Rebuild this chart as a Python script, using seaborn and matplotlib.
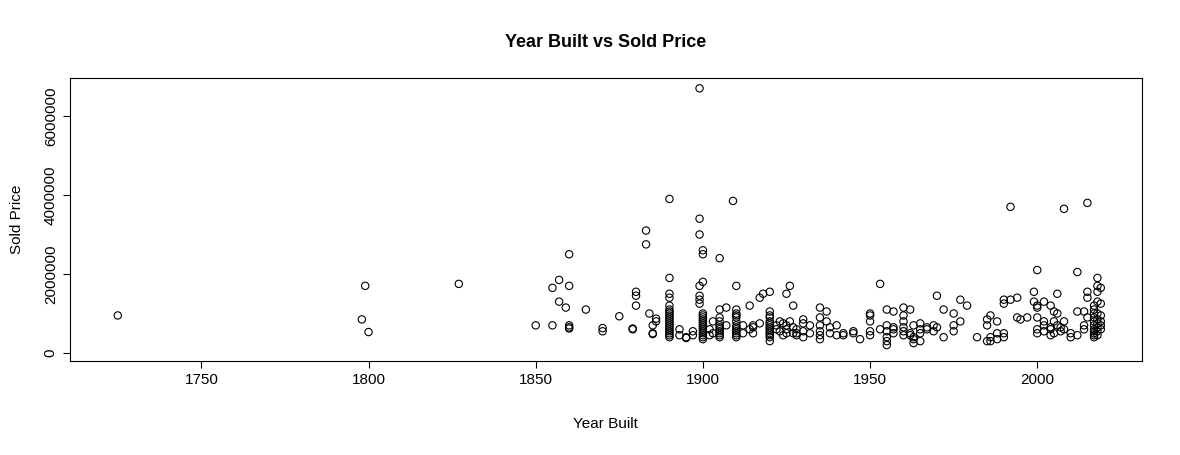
import numpy as np
import pandas as pd
import matplotlib
matplotlib.use("Agg")
import matplotlib.pyplot as plt
import seaborn as sns

# prices in thousands, grouped by year built
prices_by_year = {
    1725: [950],
    1798: [850], 1799: [1700], 1800: [530],
    1827: [1750],
    1850: [700],
    1855: [1650, 700], 1857: [1850, 1300], 1859: [1150],
    1860: [2500, 1700, 700, 650, 620],
    1865: [1100], 1870: [630, 550], 1875: [930],
    1879: [600, 620], 1880: [1550, 1450, 1200],
    1883: [3100, 2750], 1884: [1000], 1885: [500, 480, 700], 1886: [800, 870],
    1890: [3900, 1900, 1500, 1400, 1200, 1100, 1050, 1000, 950, 900, 850, 800,
           750, 700, 650, 600, 550, 500, 450, 400],
    1893: [600, 450], 1895: [380, 400], 1897: [450, 550],
    1899: [6700, 3400, 3000, 1700, 1450, 1350, 1250],
    1900: [2600, 2500, 1800, 1000, 950, 900, 850, 800, 750, 700, 650, 600, 550,
           500, 450, 400, 350],
    1902: [600, 450], 1903: [500, 800],
    1905: [2400, 1100, 900, 800, 700, 650, 600, 550, 500, 450, 400],
    1907: [1150, 700], 1909: [3850],
    1910: [1700, 1100, 1000, 950, 900, 800, 700, 650, 600, 550, 500, 450, 400],
    1912: [700, 500], 1914: [1200, 600], 1915: [700, 500, 650],
    1917: [1400, 750], 1918: [1500],
    1920: [1550, 1050, 950, 900, 800, 750, 700, 650, 600, 550, 500, 450, 400, 300],
    1922: [600, 700], 1923: [800, 550], 1924: [750, 450],
    1925: [1500, 700, 500, 600], 1926: [1700, 800], 1927: [1200, 650, 500],
    1928: [600, 500, 450], 1930: [850, 750, 550, 400], 1932: [700, 500],
    1935: [1150, 900, 700, 550, 450, 350], 1937: [1050, 800], 1938: [650, 500],
    1940: [700, 450], 1942: [500, 450], 1945: [550, 500], 1947: [350],
    1950: [1000, 950, 800, 550, 450], 1953: [1750, 600], 1955: [1100, 700, 550, 400, 300, 200],
    1957: [1050, 650, 600, 500], 1960: [1150, 950, 800, 650, 550, 450],
    1962: [1100, 500, 450], 1963: [700, 400, 350, 250], 1965: [750, 600, 500, 300],
    1967: [650, 600], 1969: [700, 550], 1970: [1450, 650], 1972: [1100, 400],
    1975: [1000, 700, 550], 1977: [1350, 800], 1979: [1200],
    1982: [400], 1985: [700, 300, 850], 1986: [950, 400, 300], 1988: [800, 500, 350],
    1990: [1350, 1250, 500, 400], 1992: [3700, 1350], 1994: [1400, 900],
    1995: [850], 1997: [900], 1999: [1550, 1300],
    2000: [2100, 1200, 1150, 900, 600, 500], 2002: [1300, 800, 700, 550],
    2004: [1200, 650, 600, 450], 2005: [1050, 800, 500], 2006: [1500, 1000, 700],
    2007: [650, 550], 2008: [3650, 800, 600], 2010: [500, 400],
    2012: [2050, 1050, 450], 2014: [1050, 700, 600], 2015: [3800, 1550, 1400, 900],
    2017: [1200, 1100, 1000, 900, 800, 700, 600, 550, 500, 450, 400],
    2018: [1900, 1700, 1550, 1300, 1000, 850, 750, 650, 550, 450],
    2019: [1650, 1250, 950, 800, 700, 600],
}

year_built = [y for y, ps in prices_by_year.items() for _ in ps]
sold_price = [p * 1000 for ps in prices_by_year.values() for p in ps]
df = pd.DataFrame({"Year Built": year_built, "Sold Price": sold_price})

sns.set_style("white")
plt.rcParams["font.family"] = ["Liberation Sans", "DejaVu Sans"]
plt.rcParams["text.color"] = "black"
plt.rcParams["axes.labelcolor"] = "black"
fig = plt.figure(figsize=(11.8, 4.55), dpi=100)
ax = fig.add_axes([0.059, 0.2066, 0.909, 0.622])
sns.scatterplot(data=df, x="Year Built", y="Sold Price", ax=ax,
                facecolors="none", edgecolor="black", linewidth=0.8, s=28)
ax.set_xlim(1710.6, 2031.4)
ax.set_ylim(-202500, 6962000)
ax.set_xticks([1750, 1800, 1850, 1900, 1950, 2000])
ax.set_yticks([0, 2000000, 4000000, 6000000])
ax.set_yticklabels(["0", "2000000", "4000000", "6000000"], rotation=90, va="center")
ax.tick_params(direction="out", length=5, width=0.8, colors="black", labelsize=11,
               bottom=True, left=True)
for s in ax.spines.values():
    s.set_color("black")
    s.set_linewidth(0.8)
ax.set_xlabel("Year Built", fontsize=11, labelpad=22, color="black")
ax.set_ylabel("Sold Price", fontsize=11, labelpad=14, color="black")
ax.set_title("Year Built vs Sold Price", fontsize=13, fontweight="bold", pad=22,
             color="black")
fig.savefig("out.png", dpi=100)
